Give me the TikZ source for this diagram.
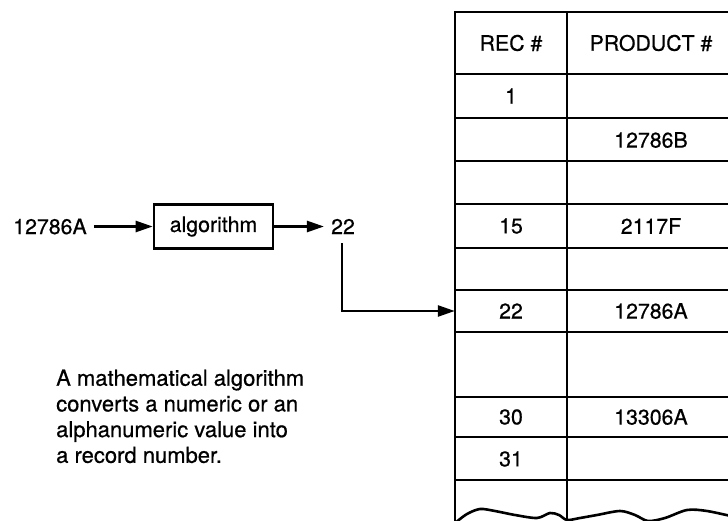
\documentclass[tikz,border=0pt]{standalone}
\usepackage{fontspec}
\setmainfont{TeX Gyre Heros}[FakeBold=0.6]
\usetikzlibrary{arrows.meta}
\begin{document}
\begin{tikzpicture}[x=1pt,y=-1pt,
  lbl/.style={font=\fontsize{21.3}{25}\selectfont, inner sep=0pt},
  grid/.style={line width=2.6pt, line cap=rect},
  conn/.style={line width=2.5pt, -{Triangle[length=17pt,width=11pt]}},
  algbox/.style={draw, line width=2.6pt, minimum width=119pt, minimum height=44pt,
    inner sep=0pt, font=\fontsize{21.3}{25}\selectfont},
  cellA/.style={lbl, minimum width=112pt, minimum height=40pt},
  cellB/.style={lbl, minimum width=166pt, minimum height=40pt},
  note/.style={font=\fontsize{22}{25.7}\selectfont, align=left, inner sep=0pt}]
\useasboundingbox (0,0) rectangle (728,521);
\clip (0,0) rectangle (728,521);

% record table: ruled rows, two columns, torn-off bottom
\draw[grid] (455,12) -- (740,12);
\foreach \y in {74,118,161,204,248,290,332,397,437,480}
  \draw[grid] (455,\y) -- (740,\y);
\draw[grid] (455,12) -- (455,530);
\draw[grid] (567,12) -- (567,530);
\draw[grid] plot[smooth] coordinates {(455,523) (467,514) (480,509) (495,511)
  (515,515) (537,518) (550,513) (559,515) (567,520) (580,518) (597,515)
  (620,511) (635,515) (648,521) (665,518) (687,510) (707,511) (735,517)};

% cell contents
\node[cellA] (h1) at (511,43) {REC \#};
\node[cellB] (h2) at (651,43) {PRODUCT \#};
\node[cellA] (r1a) at (511,96) {1};
\node[cellB] (r2b) at (651,140) {12786B};
\node[cellA] (r4a) at (511,226) {15};
\node[cellB] (r4b) at (651,226) {2117F};
\node[cellA] (r6a) at (511,311) {22};
\node[cellB] (r6b) at (651,311) {12786A};
\node[cellA] (r8a) at (511,417) {30};
\node[cellB] (r8b) at (651,417) {13306A};
\node[cellA] (r9a) at (511,459) {31};

% key -> algorithm -> record number
\node[lbl, inner xsep=7pt] (src) at (50,226.5) {12786A};
\node[algbox] (alg) at (213.5,226.5) {algorithm};
\node[lbl, inner xsep=7pt] (n22) at (343,226.5) {22};

\draw[conn] (src.east) -- (alg.west);
\draw[conn] (alg.east) -- (n22.west);
\draw[conn] ([shift={(-1pt,-9pt)}]n22.south) |- (r6a.west);

% explanatory note
\node[note, anchor=north west] (txt) at (56,369.5)
  {A mathematical algorithm\\converts a numeric or an\\alphanumeric value into\\a record number.};
\end{tikzpicture}
\end{document}
